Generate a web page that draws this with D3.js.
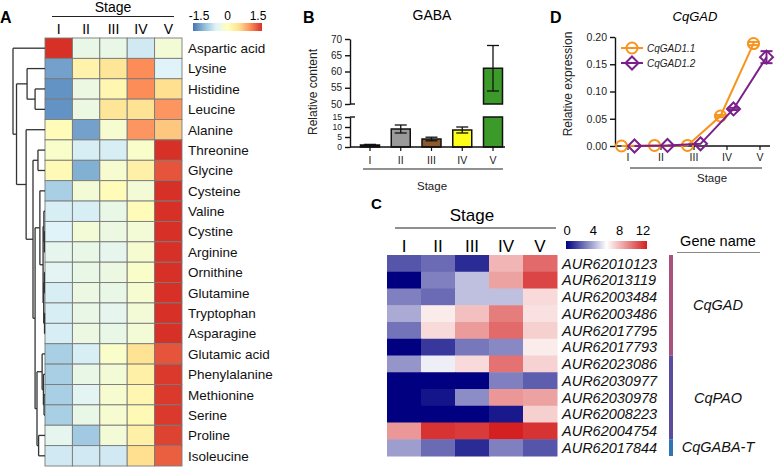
<!DOCTYPE html>
<html><head><meta charset="utf-8">
<script src="https://cdn.jsdelivr.net/npm/d3@7"></script>
<style>
body{margin:0;background:#fff;}
svg{display:block;font-family:Arial,"Liberation Sans",sans-serif;}
</style></head>
<body><svg id="c" width="777" height="468"></svg>
<script>
// ---------------- DATA ----------------
const stages = ["I","II","III","IV","V"];

const aminoAcids = ["Aspartic acid","Lysine","Histidine","Leucine","Alanine","Threonine","Glycine",
  "Cysteine","Valine","Cystine","Arginine","Ornithine","Glutamine","Tryptophan","Asparagine",
  "Glutamic acid","Phenylalanine","Methionine","Serine","Proline","Isoleucine"];
const aaZ = [
  [ 1.50,-0.35,-0.35,-0.60,-0.20],
  [-1.20, 0.20, 0.40, 1.00,-0.50],
  [-1.30,-0.30, 0.15, 1.00, 0.50],
  [-1.30,-0.30, 0.40, 0.45, 0.95],
  [ 0.05,-1.20,-0.15, 0.95, 0.65],
  [-0.10,-0.55,-0.55,-0.10, 1.50],
  [ 0.10,-1.10,-0.15, 0.25, 1.30],
  [-0.85,-0.20, 0.05,-0.20, 1.50],
  [-0.55,-0.55,-0.35, 0.05, 1.50],
  [-0.50,-0.20,-0.30,-0.20, 1.50],
  [-0.40,-0.35,-0.40,-0.15, 1.50],
  [-0.45,-0.35,-0.30,-0.10, 1.50],
  [-0.55,-0.30,-0.35,-0.15, 1.50],
  [-0.55,-0.35,-0.40,-0.20, 1.50],
  [-0.55,-0.30,-0.35,-0.20, 1.50],
  [-0.85,-0.55,-0.10, 0.45, 1.30],
  [-0.85,-0.35,-0.20, 0.25, 1.45],
  [-0.85,-0.45,-0.15, 0.15, 1.45],
  [-0.85,-0.35,-0.15, 0.10, 1.45],
  [-0.40,-0.90,-0.20, 0.25, 1.40],
  [-0.60,-0.60,-0.60, 0.50, 1.25]
];
// cluster tree: [mergeHeight, childA, childB]
const aaTree = [10, "Aspartic acid",
  [8.9,
    [5.6, "Lysine", [3.1, "Histidine", "Leucine"]],
    [5.9, "Alanine",
      [3.75, [2.2, "Threonine", "Glycine"],
        [3.1,
          [1.6, "Cysteine",
            [0.6, [0.35, "Valine", [0.2, "Cystine", "Arginine"]],
                  [0.4, [0.2, "Ornithine", "Glutamine"], [0.15, "Tryptophan", "Asparagine"]]]],
          [2.5, [0.9, "Glutamic acid", [0.5, "Phenylalanine", [0.3, "Methionine", "Serine"]]],
                [2.0, "Proline", "Isoleucine"]]]]]]];
const zTicks = [-1.5, 0, 1.5];

const gabaMean = [1.0, 9.0, 4.0, 8.5, 61.0];
const gabaSD   = [0.3, 2.0, 0.9, 1.5, 7.0];
const gabaLowTicks = [0, 5, 10, 15];
const gabaHighTicks = [50, 55, 60, 65, 70];

const gad11 = [0.000, 0.001, 0.001, 0.055, 0.188];
const gad11sd = [0.000, 0.000, 0.000, 0.002, 0.003];
const gad12 = [0.000, 0.001, 0.004, 0.068, 0.163];
const gad12sd = [0.000, 0.000, 0.001, 0.002, 0.011];
const gadTicks = [0, 0.05, 0.10, 0.15, 0.20];

const genes = ["AUR62010123","AUR62013119","AUR62003484","AUR62003486","AUR62017795","AUR62017793",
  "AUR62023086","AUR62030977","AUR62030978","AUR62008223","AUR62004754","AUR62017844"];
const geneExpr = [
  [2.0, 2.5, 1.0, 8.0, 10.0],
  [0.0, 3.0, 4.5, 8.5, 11.0],
  [3.0, 2.5, 4.5, 4.5, 7.0],
  [4.0, 6.5, 7.7, 9.5, 6.8],
  [2.7, 7.0, 8.7,10.0, 7.3],
  [0.0, 1.3, 2.8, 3.2, 6.5],
  [3.5, 5.6, 7.0, 9.8, 7.2],
  [0.0, 0.0, 0.0, 3.0, 2.2],
  [0.0, 0.5, 3.3, 8.8, 8.5],
  [0.0, 0.0, 0.0, 0.6, 7.3],
  [8.8,11.5,11.3,12.0,11.5],
  [3.7, 2.5, 1.0, 3.0, 2.0]
];
const geneGroups = [
  {name:"CqGAD", count:6},
  {name:"CqPAO", count:5},
  {name:"CqGABA-T", count:1}
];
const exprTicks = [0, 4, 8, 12];

// ---------------- STYLE ----------------
const pal = ["#4575B4","#91BFDB","#E0F3F8","#FFFFBF","#FEE090","#FC8D59","#D73027"];
const gabaColors = ["#111111","#9a9a9a","#8c5a2c","#ffff1a","#3c9a2a"];
const groupColors = ["#a9527c","#5b4d9e","#2f74b5"];
const orange = "#f7941d", purple = "#7b1f8a";

const svg = d3.select("#c");

// ================= PANEL A =================
const A = svg.append("g");
A.append("text").attr("x",0).attr("y",23).attr("font-weight","bold").attr("font-size",16).text("A");
const ax = d3.scaleBand().domain(stages).range([45,182]);
const ay = d3.scaleBand().domain(aminoAcids).range([38,466]);
const zDom = d3.range(pal.length).map(i => -1.5 + 3*i/(pal.length-1));
const zCol = d3.scaleLinear().domain(zDom).range(pal);

aminoAcids.forEach((aa,i) => {
  stages.forEach((s,j) => {
    A.append("rect").attr("x",ax(s)).attr("y",ay(aa)).attr("width",ax.bandwidth()).attr("height",ay.bandwidth())
      .attr("fill",zCol(aaZ[i][j])).attr("stroke","#7a7a7a").attr("stroke-width",0.9);
  });
  A.append("text").attr("x",188).attr("y",ay(aa)+ay.bandwidth()/2).attr("dy","0.36em")
    .attr("font-size",13.5).attr("fill","#111").text(aa);
});
A.append("text").attr("x",113).attr("y",12).attr("text-anchor","middle").attr("font-size",14).text("Stage");
A.append("line").attr("x1",52).attr("x2",174).attr("y1",16.5).attr("y2",16.5).attr("stroke","#222").attr("stroke-width",1.2);
stages.forEach(s => A.append("text").attr("x",ax(s)+ax.bandwidth()/2).attr("y",33.5).attr("text-anchor","middle").attr("font-size",14).text(s));

// legend
const defs = svg.append("defs");
const gA = defs.append("linearGradient").attr("id","gA");
pal.forEach((c,i)=>gA.append("stop").attr("offset",(i/(pal.length-1))).attr("stop-color",c));
const zLeg = d3.scaleLinear().domain([-1.5,1.5]).range([193,262]);
A.append("rect").attr("x",193).attr("y",23).attr("width",69).attr("height",8).attr("fill","url(#gA)");
zTicks.forEach(t => A.append("text").attr("x",zLeg(t)+(t<0?6:t>0?-4:0)).attr("y",20).attr("text-anchor","middle").attr("font-size",12).text(t));

// dendrogram
function build(n){ return typeof n === "string" ? {name:n} : {h:n[0], children:[build(n[1]), build(n[2])]}; }
const root = d3.hierarchy(build(aaTree));
const hx = d3.scaleLinear().domain([0,10]).range([45,13]);
root.eachAfter(d => {
  if (!d.children) { d.py = ay(d.data.name)+ay.bandwidth()/2; d.px = hx(0); }
  else { d.py = d3.mean(d.children, c=>c.py); d.px = hx(d.data.h); }
});
root.each(d => {
  if (d.children) {
    const ys = d.children.map(c=>c.py);
    A.append("line").attr("x1",d.px).attr("x2",d.px).attr("y1",d3.min(ys)).attr("y2",d3.max(ys)).attr("stroke","#333").attr("stroke-width",1.3);
    d.children.forEach(c => A.append("line").attr("x1",d.px).attr("x2",c.px).attr("y1",c.py).attr("y2",c.py).attr("stroke","#333").attr("stroke-width",1.3));
  }
});

// ================= PANEL B =================
const B = svg.append("g");
B.append("text").attr("x",303).attr("y",23).attr("font-weight","bold").attr("font-size",16).text("B");
B.append("text").attr("x",432).attr("y",20).attr("text-anchor","middle").attr("font-size",14).text("GABA");
const bx = d3.scalePoint().domain(stages).range([370,493]);
const yLow = d3.scaleLinear().domain([0,15]).range([147,117]);
const yHigh = d3.scaleLinear().domain([50,70]).range([104,39]);
const yB = v => v <= 15 ? yLow(v) : yHigh(Math.max(v,50));
const bw = 19;
gabaMean.forEach((v,i) => {
  const cx = bx(stages[i]);
  B.append("rect").attr("x",cx-bw/2).attr("y",yLow(Math.min(v,15))).attr("width",bw).attr("height",yLow(0)-yLow(Math.min(v,15)))
    .attr("fill",gabaColors[i]).attr("stroke","#111").attr("stroke-width",1.5);
  if (v > 50) {
    B.append("rect").attr("x",cx-bw/2).attr("y",yHigh(v)).attr("width",bw).attr("height",yHigh(50)-yHigh(v))
      .attr("fill",gabaColors[i]).attr("stroke","#111").attr("stroke-width",1.5);
  }
  const lo = yB(v-gabaSD[i]), hi = yB(v+gabaSD[i]);
  B.append("line").attr("x1",cx).attr("x2",cx).attr("y1",lo).attr("y2",hi).attr("stroke","#111").attr("stroke-width",1.3);
  [lo,hi].forEach(yy => B.append("line").attr("x1",cx-6).attr("x2",cx+6).attr("y1",yy).attr("y2",yy).attr("stroke","#111").attr("stroke-width",1.3));
});
const axLow = B.append("g").attr("transform","translate(350,0)").call(d3.axisLeft(yLow).tickValues(gabaLowTicks).tickSize(5).tickSizeOuter(0));
const axHigh = B.append("g").attr("transform","translate(350,0)").call(d3.axisLeft(yHigh).tickValues(gabaHighTicks).tickSize(5).tickSizeOuter(0));
axLow.selectAll("text").attr("font-size",8.6);
axHigh.selectAll("text").attr("font-size",10);
[axLow,axHigh].forEach(g=>{g.selectAll("text").attr("font-family","Arial,'Liberation Sans',sans-serif").attr("fill","#222");
  g.selectAll("path,line").attr("stroke","#111").attr("stroke-width",1.4);});
[yLow(15), yHigh(50)].forEach(yy => B.append("line").attr("x1",350).attr("x2",355).attr("y1",yy).attr("y2",yy).attr("stroke","#111").attr("stroke-width",1.4));
B.append("line").attr("x1",350).attr("x2",505).attr("y1",147).attr("y2",147).attr("stroke","#111").attr("stroke-width",1.4);
stages.forEach(s => {
  B.append("line").attr("x1",bx(s)).attr("x2",bx(s)).attr("y1",147).attr("y2",151).attr("stroke","#111").attr("stroke-width",1.2);
  B.append("text").attr("x",bx(s)).attr("y",164).attr("text-anchor","middle").attr("font-size",10.5).attr("fill","#222").text(s);
});
B.append("line").attr("x1",363).attr("x2",503).attr("y1",169).attr("y2",169).attr("stroke","#222").attr("stroke-width",1);
B.append("text").attr("x",432).attr("y",190).attr("text-anchor","middle").attr("font-size",11.5).attr("fill","#222").text("Stage");
B.append("text").attr("transform","translate(317,92) rotate(-90)").attr("text-anchor","middle").attr("font-size",12).attr("fill","#222").text("Relative content");

// ================= PANEL D =================
const D = svg.append("g");
D.append("text").attr("x",550).attr("y",23).attr("font-weight","bold").attr("font-size",16).text("D");
D.append("text").attr("x",695).attr("y",21).attr("text-anchor","middle").attr("font-size",13).attr("font-style","italic").text("CqGAD");
const dx = d3.scalePoint().domain(stages).range([628,760]);
const dy = d3.scaleLinear().domain([0,0.2]).range([146,37]);
const yAxD = D.append("g").attr("transform","translate(615,0)").call(d3.axisLeft(dy).tickValues(gadTicks).tickFormat(d3.format(".2f")).tickSize(5).tickSizeOuter(0));
yAxD.selectAll("text").attr("font-size",10.5).attr("font-family","Arial,'Liberation Sans',sans-serif").attr("fill","#222");
yAxD.selectAll("path,line").attr("stroke","#111").attr("stroke-width",1.4);
D.append("line").attr("x1",615).attr("x2",770).attr("y1",146).attr("y2",146).attr("stroke","#111").attr("stroke-width",1.4);
stages.forEach(s => {
  D.append("line").attr("x1",dx(s)).attr("x2",dx(s)).attr("y1",146).attr("y2",150).attr("stroke","#111").attr("stroke-width",1.2);
  D.append("text").attr("x",dx(s)).attr("y",161).attr("text-anchor","middle").attr("font-size",10.5).attr("fill","#222").text(s);
});
D.append("line").attr("x1",630).attr("x2",762).attr("y1",168).attr("y2",168).attr("stroke","#222").attr("stroke-width",1);
D.append("text").attr("x",712).attr("y",182).attr("text-anchor","middle").attr("font-size",11.5).attr("fill","#222").text("Stage");
D.append("text").attr("transform","translate(572,84) rotate(-90)").attr("text-anchor","middle").attr("font-size",12).attr("fill","#222").text("Relative expression");

const diamond = (cx,cy,r) => `M${cx},${cy-r}L${cx+r},${cy}L${cx},${cy+r}L${cx-r},${cy}Z`;
const series = [
  {vals:gad11, sd:gad11sd, off:-6.5, col:orange, shape:"circle", name:"CqGAD1.1"},
  {vals:gad12, sd:gad12sd, off:6.5, col:purple, shape:"diamond", name:"CqGAD1.2"}
];
series.forEach(se => {
  const line = d3.line().x((v,i)=>dx(stages[i])+se.off).y(v=>dy(v));
  D.append("path").attr("d",line(se.vals)).attr("fill","none").attr("stroke",se.col).attr("stroke-width",2);
  se.vals.forEach((v,i) => {
    const cx = dx(stages[i])+se.off, cy = dy(v);
    if (se.sd[i] > 0.001) {
      const lo = dy(v-se.sd[i]), hi = dy(v+se.sd[i]);
      D.append("line").attr("x1",cx).attr("x2",cx).attr("y1",lo).attr("y2",hi).attr("stroke",se.col).attr("stroke-width",2);
      [lo,hi].forEach(yy=>D.append("line").attr("x1",cx-6).attr("x2",cx+6).attr("y1",yy).attr("y2",yy).attr("stroke",se.col).attr("stroke-width",2));
    }
    if (se.shape==="circle") D.append("circle").attr("cx",cx).attr("cy",cy).attr("r",5.5).attr("fill","none").attr("stroke",se.col).attr("stroke-width",2);
    else D.append("path").attr("d",diamond(cx,cy,6.5)).attr("fill","none").attr("stroke",se.col).attr("stroke-width",2);
  });
});
series.forEach((se,k) => {
  const ly = 48 + k*15;
  D.append("line").attr("x1",621).attr("x2",643).attr("y1",ly).attr("y2",ly).attr("stroke",se.col).attr("stroke-width",2);
  if (se.shape==="circle") D.append("circle").attr("cx",632).attr("cy",ly).attr("r",5.5).attr("fill","#fff").attr("stroke",se.col).attr("stroke-width",2);
  else D.append("path").attr("d",diamond(632,ly,6.5)).attr("fill","#fff").attr("stroke",se.col).attr("stroke-width",2);
  D.append("line").attr("x1",626).attr("x2",638).attr("y1",ly).attr("y2",ly).attr("stroke",se.col).attr("stroke-width",2);
  D.append("text").attr("x",647).attr("y",ly).attr("dy","0.35em").attr("font-size",10).attr("font-style","italic").attr("fill","#222").text(se.name);
});

// ================= PANEL C =================
const C = svg.append("g");
C.append("text").attr("x",371).attr("y",209).attr("font-weight","bold").attr("font-size",15).text("C");
const cx = d3.scaleBand().domain(stages).range([387,557]);
const cy = d3.scaleBand().domain(genes).range([255,456]);
const eCol = d3.scaleLinear().domain([0,6,12]).range(["#000080","#ffffff","#d42020"]);
genes.forEach((g,i) => {
  stages.forEach((s,j) => {
    C.append("rect").attr("x",cx(s)).attr("y",cy(g)).attr("width",cx.bandwidth()+0.5).attr("height",cy.bandwidth()+0.5)
      .attr("fill",eCol(geneExpr[i][j]));
  });
  C.append("text").attr("x",562).attr("y",cy(g)+cy.bandwidth()/2).attr("dy","0.36em").attr("font-size",14.5)
    .attr("font-style","italic").attr("fill","#111").text(g);
});
C.append("text").attr("x",472).attr("y",221).attr("text-anchor","middle").attr("font-size",17).text("Stage");
C.append("line").attr("x1",395).attr("x2",556).attr("y1",228).attr("y2",228).attr("stroke","#222").attr("stroke-width",1.2);
stages.forEach(s => C.append("text").attr("x",cx(s)+cx.bandwidth()/2).attr("y",252).attr("text-anchor","middle").attr("font-size",17).text(s));
// legend
const gC = defs.append("linearGradient").attr("id","gC");
d3.range(0,12.01,1).forEach(v=>gC.append("stop").attr("offset",v/12).attr("stop-color",eCol(v)));
const eLeg = d3.scaleLinear().domain([0,12]).range([567,646]);
C.append("rect").attr("x",566).attr("y",241).attr("width",81).attr("height",8).attr("fill","url(#gC)");
exprTicks.forEach(t => C.append("text").attr("x",eLeg(t)+(t===12?-3:0)).attr("y",235).attr("text-anchor","middle").attr("font-size",13).text(t));
C.append("text").attr("x",718).attr("y",246).attr("text-anchor","middle").attr("font-size",14.5).text("Gene name");
C.append("line").attr("x1",677).attr("x2",760).attr("y1",252.5).attr("y2",252.5).attr("stroke","#888").attr("stroke-width",1.2);
let start = 0;
geneGroups.forEach((gr,k) => {
  const y0 = cy(genes[start]), y1 = cy(genes[start+gr.count-1]) + cy.bandwidth();
  C.append("rect").attr("x",669).attr("y",y0).attr("width",4).attr("height",y1-y0).attr("fill",groupColors[k]);
  C.append("text").attr("x",718).attr("y",(y0+y1)/2 + (k===2?-1:0)).attr("dy","0.36em").attr("text-anchor","middle")
    .attr("font-size",14.5).attr("font-style","italic").attr("fill","#111").text(gr.name);
  start += gr.count;
});
</script></body></html>
